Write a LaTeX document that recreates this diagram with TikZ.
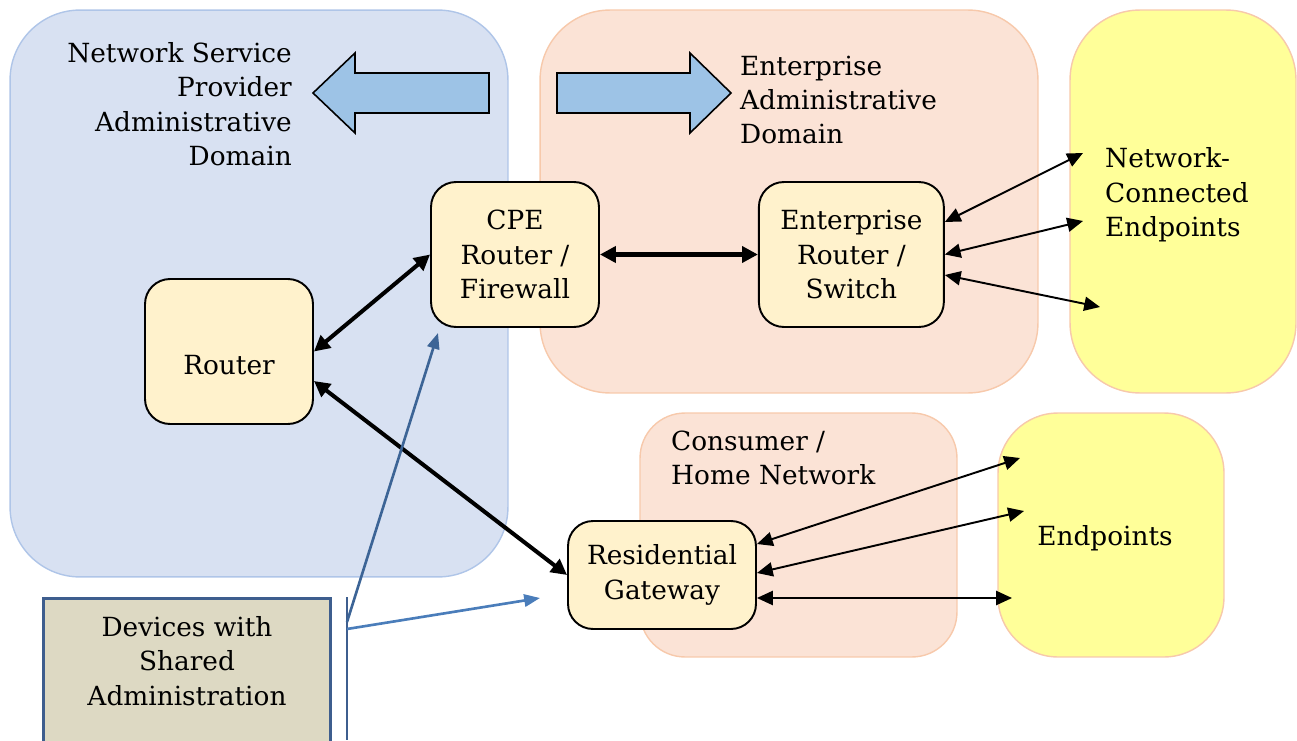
\documentclass[tikz,border=0pt]{standalone}
\usepackage{fontspec}
\setmainfont{DejaVu Serif}
\usetikzlibrary{positioning, arrows.meta, calc}

\definecolor{nspfill}{HTML}{D8E1F2}
\definecolor{nspline}{HTML}{AFC5E8}
\definecolor{entfill}{HTML}{FBE3D6}
\definecolor{entline}{HTML}{F7C9AB}
\definecolor{epfill}{HTML}{FFFF99}
\definecolor{boxfill}{HTML}{FFF2CC}
\definecolor{bigarrow}{HTML}{9DC3E6}
\definecolor{sharedfill}{HTML}{DDD9C3}
\definecolor{sharedline}{HTML}{3E5E8E}
\definecolor{linkblue}{HTML}{3C6496}
\definecolor{linkblueb}{HTML}{4A7DBA}

\begin{document}
\begin{tikzpicture}[x=0.02cm, y=-0.02cm,
    every node/.style={font=\fontsize{15}{19.6}\selectfont},
    region/.style={rounded corners=1.4cm, line width=0.8pt, inner sep=0pt},
    devbox/.style={draw=black, line width=1.1pt, fill=boxfill, rounded corners=0.5cm, align=center, inner sep=0pt, minimum height=2.9cm},
    blockarrow/.style={draw=black, line width=0.9pt, fill=bigarrow, line join=miter},
    thick link/.style={{Triangle[length=9pt,width=9pt]}-{Triangle[length=9pt,width=9pt]}, line width=2.3pt},
    thin link/.style={{Triangle[length=9pt,width=8pt]}-{Triangle[length=9pt,width=8pt]}, line width=1.1pt},
    shared link/.style={-{Triangle[length=9pt,width=7pt]}, line width=1.5pt}]

    \useasboundingbox (0,0) rectangle (1297,740);

    % Administrative domains
    \node[region, draw=nspline, fill=nspfill, minimum width=9.96cm, minimum height=11.34cm] (nsp) at (259,293.5) {};
    \node[region, draw=entline, fill=entfill, minimum width=9.96cm, minimum height=7.66cm] (ent) at (789,201.5) {};
    \node[region, draw=entline, fill=epfill, minimum width=4.52cm, minimum height=7.66cm] (nce) at (1183,201.5) {};
    \node[region, rounded corners=0.9cm, draw=entline, fill=entfill, minimum width=6.34cm, minimum height=4.88cm] (home) at (798.5,535) {};
    \node[region, rounded corners=1.2cm, draw=entline, fill=epfill, minimum width=4.52cm, minimum height=4.88cm] (endp) at (1111,535) {};

    % Domain labels
    \node[anchor=east, align=right] (nsplabel) at (298,104) {Network Service\\Provider\\Administrative\\Domain};
    \node[anchor=west, align=left] (entlabel) at (734,100) {Enterprise\\Administrative\\Domain};
    \node[anchor=west, align=left] (ncelabel) at (1099,195) {Network-\\Connected\\Endpoints};
    \node[anchor=west, align=left] (homelabel) at (665,458) {Consumer /\\Home Network};
    \node (endlabel) at (1105,538) {Endpoints};

    % Block arrows
    \draw[blockarrow] (313,93) -- (355,53) -- (355,73) -- (489,73) -- (489,113) -- (355,113) -- (355,133) -- cycle;
    \draw[blockarrow] (557,73) -- (690,73) -- (690,53) -- (731,93) -- (690,133) -- (690,113) -- (557,113) -- cycle;

    % Devices
    \node[devbox, minimum width=3.36cm, text height=1cm, text depth=0.1cm] (router) at (229,351.5) {Router};
    \node[devbox, minimum width=3.36cm] (cpe) at (515,254.5) {CPE\\Router /\\Firewall};
    \node[devbox, minimum width=3.7cm, right=3.16cm of cpe] (ers) {Enterprise\\Router /\\Switch};
    \node[devbox, minimum width=3.76cm, minimum height=2.16cm] (rg) at (662,575) {Residential\\Gateway};

    % Shared administration
    \node[draw=sharedline, line width=1.7pt, fill=sharedfill, minimum width=5.76cm, minimum height=3.2cm, anchor=north] (shared) at (187,597) {};
    \node[align=center] (sharedtext) at (187,661) {Devices with\\Shared\\Administration};

    % Free ends
    \coordinate (nce a) at (1083,153);
    \coordinate (nce b) at (1083,221);
    \coordinate (nce c) at (1100,307);
    \coordinate (ep a) at (1020,458);
    \coordinate (ep b) at (1024,511);
    \coordinate (ep c) at (1012,598);
    \coordinate (bar top) at (347,597);
    \coordinate (bar bot) at (347,740);
    \coordinate (tap a) at (347,622);
    \coordinate (tap b) at (347,629);
    \coordinate (cpe tip) at (438,333);
    \coordinate (rg tip) at (540,598);

    % Links
    \draw[thick link] (router.east) -- (cpe.west);
    \draw[thick link] ([yshift=-0.59cm]router.east) -- (rg.west);
    \draw[thick link] (cpe.east) -- (ers.west);
    \draw[thin link] ([yshift=0.65cm]ers.east) -- (nce a);
    \draw[thin link] (ers.east) -- (nce b);
    \draw[thin link] ([yshift=-0.41cm]ers.east) -- (nce c);
    \draw[thin link] ([yshift=0.62cm]rg.east) -- (ep a);
    \draw[thin link] ([yshift=0.04cm]rg.east) -- (ep b);
    \draw[thin link] ([yshift=-0.46cm]rg.east) -- (ep c);

    \draw[sharedline, line width=1.7pt] (bar top) -- (bar bot);
    \draw[shared link, linkblue] (tap a) -- (cpe tip);
    \draw[shared link, linkblueb] (tap b) -- (rg tip);

\end{tikzpicture}
\end{document}
